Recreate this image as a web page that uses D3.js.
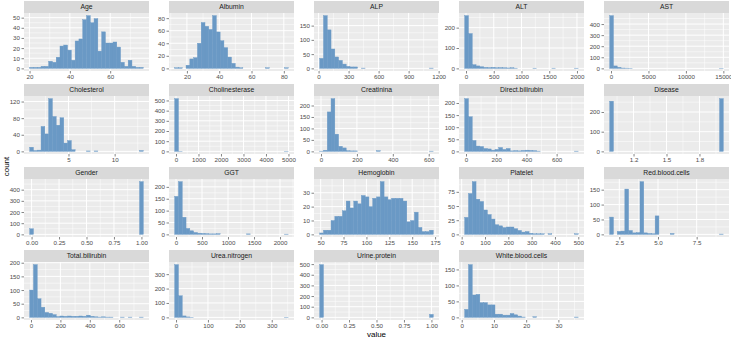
<!DOCTYPE html>
<html>
<head>
<meta charset="utf-8">
<script src="https://cdn.jsdelivr.net/npm/d3@7"></script>
<style>
	body { margin: 0; background: #fff; }
	text { font-family: "Liberation Sans", Arial, sans-serif; }
</style>
</head>
<body>
<div id="chart"></div>
<script>
'use strict';

// facet order as in facet_wrap (5 columns)
const facetNames = ["Age", "Albumin", "ALP", "ALT", "AST",
	"Cholesterol", "Cholinesterase", "Creatinina", "Direct.bilirubin", "Disease",
	"Gender", "GGT", "Hemoglobin", "Platelet", "Red.blood.cells",
	"Total.bilirubin", "Urea.nitrogen", "Urine.protein", "White.blood.cells"];

// data range per variable (centre of first / last bin)
const dataMin = [21, 13.6, 30, 10, 76, 1.0, 26, 3.2, 3.75, 1, 0, 11, 51, 21, 2, 4, 1.7, 0, 1.5];
const dataMax = [75.5, 81.6, 1128, 1990, 14742, 12.9, 4909, 615, 731, 2, 1, 2123, 171, 492, 9.1, 751, 346, 1, 35.6];

// 30 bins per variable
const binCounts = [
	[1,1,1,2,2, 7,6,11,22,23, 18,8,27,29,48, 52,45,49,17,36, 25,25,26,21,6, 2,8,2,1,1],
	[1,1,0,5,15, 17,40,73,67,62, 84,58,44,33,18, 8,2,1,0,0, 0,0,0,0,1, 0,0,0,0,1],
	[35,185,135,68,40, 28,15,7,5,5, 0,1,0,0,0, 0,0,0,0,0, 0,0,0,0,0, 0,0,0,0,1],
	[259,171,18,12,8, 5,4,5,3,4, 3,2,3,1,0, 0,0,0,1,0, 0,0,0,1,0, 0,0,0,0,1],
	[476,22,10,3,2, 1,0,0,0,0, 0,0,0,0,0, 0,0,0,0,0, 0,0,0,0,0, 0,0,0,0,1],
	[10,2,3,60,42, 127,84,63,81,20, 26,4,0,0,0, 1,0,1,0,0, 0,0,0,0,0, 0,0,0,0,2],
	[518,1,0,0,0, 0,0,0,0,0, 0,0,0,0,0, 0,0,0,0,0, 0,0,0,0,0, 0,0,0,0,1],
	[1,5,172,230,75, 22,15,3,2,2, 0,0,0,0,0, 3,0,0,0,0, 0,0,0,0,0, 0,0,0,0,1],
	[218,143,45,22,20, 12,10,5,8,16, 8,12,2,3,2, 4,5,4,3,1, 0,0,0,0,0, 0,0,0,0,1],
	[255,0,0,0,0, 0,0,0,0,0, 0,0,0,0,0, 0,0,0,0,0, 0,0,0,0,0, 0,0,0,0,268],
	[50,0,0,0,0, 0,0,0,0,0, 0,0,0,0,0, 0,0,0,0,0, 0,0,0,0,0, 0,0,0,0,472],
	[160,222,72,25,15, 8,5,4,3,2, 2,3,0,0,0, 0,0,0,0,2, 0,0,0,0,0, 0,0,0,0,1],
	[1,3,3,10,13, 13,17,24,19,24, 22,28,27,20,26, 27,38,27,25,26, 26,26,24,9,10, 16,5,2,2,3],
	[30,72,93,62,58, 43,35,27,17,15, 12,13,13,10,7, 4,5,2,1,1, 1,0,1,0,0, 0,0,0,0,1],
	[58,0,10,11,152, 13,5,6,177,5, 3,2,62,0,0, 0,3,0,0,0, 0,0,0,0,0, 0,0,0,0,1],
	[100,193,68,37,18, 15,10,3,5,4, 5,4,4,5,4, 8,4,2,1,2, 1,1,0,0,1, 0,1,0,0,1],
	[366,150,10,3,1, 0,0,0,0,0, 0,0,0,0,0, 0,0,0,0,0, 0,0,0,0,0, 0,0,0,0,1],
	[495,0,0,0,0, 0,0,0,0,0, 0,0,0,0,0, 0,0,0,0,0, 0,0,0,0,0, 0,0,0,0,28],
	[25,165,70,72,46, 46,39,39,10,10, 7,7,12,8,4, 1,0,0,2,0, 0,0,0,0,0, 0,0,0,0,1]
];

const xTickLabels = [
	["20","40","60"],
	["20","40","60","80"],
	["0","300","600","900","1200"],
	["0","500","1000","1500","2000"],
	["0","5000","10000","15000"],
	["5","10"],
	["0","1000","2000","3000","4000","5000"],
	["0","200","400","600"],
	["0","200","400","600"],
	["1.2","1.5","1.8"],
	["0.00","0.25","0.50","0.75","1.00"],
	["0","500","1000","1500","2000"],
	["50","75","100","125","150","175"],
	["0","100","200","300","400","500"],
	["2.5","5.0","7.5"],
	["0","200","400","600"],
	["0","100","200","300"],
	["0.00","0.25","0.50","0.75","1.00"],
	["0","10","20","30"]
];

const yTickLabels = [
	["0","10","20","30","40","50"],
	["0","20","40","60","80"],
	["0","50","100","150"],
	["0","100","200"],
	["0","100","200","300","400"],
	["0","40","80","120"],
	["0","100","200","300","400","500"],
	["0","50","100","150","200"],
	["0","50","100","150","200"],
	["0","100","200"],
	["0","100","200","300","400"],
	["0","50","100","150","200"],
	["0","10","20","30"],
	["0","25","50","75"],
	["0","50","100","150"],
	["0","50","100","150","200"],
	["0","100","200","300"],
	["0","100","200","300","400","500"],
	["0","50","100","150"]
];

const width = 731, height = 338;
const ncol = 5;
const left0 = 24, top0 = 1;
const colStep = 145, rowStep = 83;
const panelW = 125, stripH = 12, panelH = 58;

const svg = d3.select("#chart")
	.append("svg")
		.attr("width", width)
		.attr("height", height);

// minor breaks halfway between majors, kept inside the limits
function minorBreaks(major, dom) {
	if (major.length < 2) return [];
	const step = major[1] - major[0];
	const out = [];
	for (let v = major[0] - step / 2; v <= major[major.length - 1] + step / 2 + 1e-9; v += step) {
		if (v >= dom[0] && v <= dom[1]) out.push(v);
	}
	return out;
}

facetNames.forEach((name, i) => {
	const col = i % ncol, row = Math.floor(i / ncol);
	const gx0 = left0 + col * colStep, gy0 = top0 + row * rowStep;

	const counts = binCounts[i];
	const bw = (dataMax[i] - dataMin[i]) / (counts.length - 1);
	const lo = dataMin[i] - bw / 2, hi = dataMax[i] + bw / 2;
	const pad = (hi - lo) * 0.05;

	const x = d3.scaleLinear()
		.domain([lo - pad, hi + pad])
		.range([0, panelW]);

	const maxC = d3.max(counts);
	const y = d3.scaleLinear()
		.domain([-0.05 * maxC, 1.05 * maxC])
		.range([panelH, 0]);

	const g = svg.append("g")
		.attr("transform", `translate(${gx0},${gy0})`);

	// strip
	g.append("rect")
		.attr("width", panelW)
		.attr("height", stripH)
		.attr("fill", "#D9D9D9");
	g.append("text")
		.attr("x", panelW / 2)
		.attr("y", stripH / 2)
		.attr("dy", "0.35em")
		.attr("text-anchor", "middle")
		.attr("font-size", 6.8)
		.attr("fill", "#1A1A1A")
		.text(name);

	const p = g.append("g")
		.attr("transform", `translate(0,${stripH})`);

	p.append("rect")
		.attr("width", panelW)
		.attr("height", panelH)
		.attr("fill", "#EBEBEB");

	const xt = xTickLabels[i].map(Number);
	const yt = yTickLabels[i].map(Number);

	// grid
	p.append("g").selectAll("line")
		.data(minorBreaks(xt, x.domain()))
		.join("line")
			.attr("x1", d => x(d)).attr("x2", d => x(d))
			.attr("y1", 0).attr("y2", panelH)
			.attr("stroke", "#fff").attr("stroke-width", 0.5);
	p.append("g").selectAll("line")
		.data(minorBreaks(yt, y.domain()))
		.join("line")
			.attr("y1", d => y(d)).attr("y2", d => y(d))
			.attr("x1", 0).attr("x2", panelW)
			.attr("stroke", "#fff").attr("stroke-width", 0.5);
	p.append("g").selectAll("line")
		.data(xt)
		.join("line")
			.attr("x1", d => x(d)).attr("x2", d => x(d))
			.attr("y1", 0).attr("y2", panelH)
			.attr("stroke", "#fff").attr("stroke-width", 1);
	p.append("g").selectAll("line")
		.data(yt)
		.join("line")
			.attr("y1", d => y(d)).attr("y2", d => y(d))
			.attr("x1", 0).attr("x2", panelW)
			.attr("stroke", "#fff").attr("stroke-width", 1);

	// bars
	p.append("g").selectAll("rect")
		.data(counts)
		.join("rect")
			.attr("x", (d, k) => x(lo + k * bw))
			.attr("width", (d, k) => x(lo + (k + 1) * bw) - x(lo + k * bw))
			.attr("y", d => y(d))
			.attr("height", d => y(0) - y(d))
			.attr("fill", "#6A99C5")
			.attr("stroke", "#6A99C5")
			.attr("stroke-width", 0.4);

	// axes
	const xAxis = d3.axisBottom(x)
		.tickValues(xt)
		.tickFormat((d, k) => xTickLabels[i][k])
		.tickSize(2.5)
		.tickPadding(1.5);
	const ax = p.append("g")
		.attr("transform", `translate(0,${panelH})`)
		.call(xAxis);

	const yAxis = d3.axisLeft(y)
		.tickValues(yt)
		.tickFormat((d, k) => yTickLabels[i][k])
		.tickSize(2.5)
		.tickPadding(1.5);
	const ay = p.append("g").call(yAxis);

	[ax, ay].forEach(a => {
		a.select(".domain").remove();
		a.selectAll(".tick line").attr("stroke", "#333333").attr("stroke-width", 0.6);
		a.selectAll(".tick text")
			.attr("fill", "#4D4D4D")
			.attr("font-size", 6.2)
			.style("font-family", "'Liberation Sans', Arial, sans-serif");
	});
});

// axis titles
svg.append("text")
	.attr("x", (left0 + left0 + 4 * colStep + panelW) / 2)
	.attr("y", 337)
	.attr("text-anchor", "middle")
	.attr("font-size", 8)
	.attr("fill", "#000")
	.text("value");

svg.append("text")
	.attr("transform", `translate(9,${(top0 + 3 * rowStep + stripH + panelH + top0 + stripH) / 2}) rotate(-90)`)
	.attr("text-anchor", "middle")
	.attr("font-size", 8)
	.attr("fill", "#000")
	.text("count");
</script>
</body>
</html>
